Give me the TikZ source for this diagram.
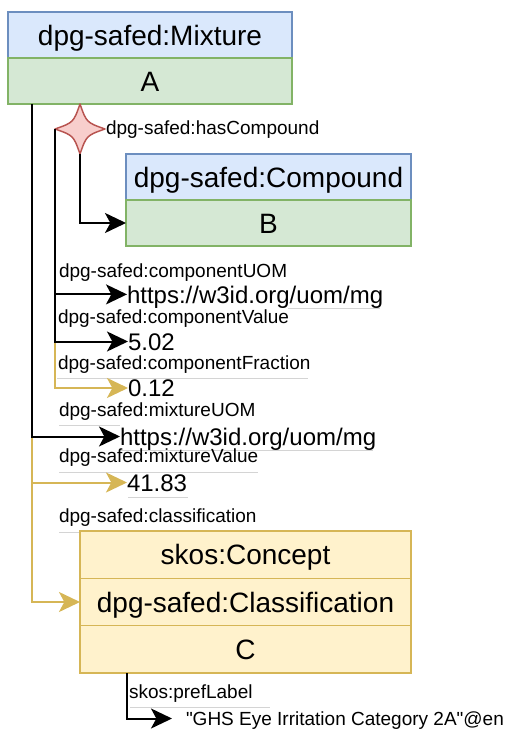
\documentclass[tikz,border=0pt]{standalone}
\usepackage{fontspec}
\setmainfont{Liberation Sans}
\newfontfamily\plainfont{Liberation Sans}
\usetikzlibrary{arrows.meta}
\definecolor{bluef}{HTML}{DAE8FC}
\definecolor{blued}{HTML}{6C8EBF}
\definecolor{greenf}{HTML}{D5E8D4}
\definecolor{greend}{HTML}{82B366}
\definecolor{redf}{HTML}{F8CECC}
\definecolor{redd}{HTML}{B85450}
\definecolor{goldf}{HTML}{FFF2CC}
\definecolor{goldd}{HTML}{D6B656}
\definecolor{ulgray}{HTML}{D4D4D4}
\begin{document}
\begin{tikzpicture}[x=0.75pt,y=-0.75pt,
  box/.style={draw, line width=1.1pt, inner sep=0pt, outer sep=0pt, text height=15.12pt, text depth=0pt, font=\fontsize{21}{25}\selectfont},
  bluebox/.style={box, fill=bluef, draw=blued},
  greenbox/.style={box, fill=greenf, draw=greend},
  goldbox/.style={box, fill=goldf, draw=goldd},
  lbl/.style={inner sep=0pt, outer sep=0pt, anchor=west, text height=10.26pt, text depth=0pt, font=\fontsize{14.25}{17}\selectfont},
  val/.style={inner sep=0pt, outer sep=0pt, anchor=west, text height=12.96pt, text depth=0pt, font=\fontsize{18}{22}\selectfont},
  conn/.style={line width=1.5pt, -{Stealth[length=15.75pt,width=15pt,inset=4pt]}},
  gconn/.style={conn, draw=goldd},
  starshape/.style={draw=redd, fill=redf, line width=1.1pt, line join=round},
  uline/.style={draw=ulgray, line width=0.75pt}]
\useasboundingbox (0,0) rectangle (507,730);

% boxes
\node[bluebox, minimum width=213pt, minimum height=34.5pt] (mixT) at (150,35) {dpg-safed:Mixture};
\node[greenbox, minimum width=213pt, minimum height=34.5pt] (mixA) at (150,81) {A};
\node[bluebox, minimum width=213.75pt, minimum height=34.5pt] (compT) at (268.5,177) {dpg-safed:Compound};
\node[greenbox, minimum width=213.75pt, minimum height=34.5pt] (compB) at (268.5,223) {B};
\node[goldbox, minimum width=248.25pt, minimum height=35.5pt] (clsT) at (245.5,554.7) {skos:Concept};
\node[goldbox, minimum width=248.25pt, minimum height=35.5pt] (clsM) at (245.5,602) {dpg-safed:Classification};
\node[goldbox, minimum width=248.25pt, minimum height=35.5pt] (clsC) at (245.5,649.3) {C};

% four-point star (blank node)
\coordinate (starN) at (80,104);
\coordinate (starE) at (105,129);
\coordinate (starS) at (80,154);
\coordinate (starW) at (55,129);
\draw[starshape] (starN) .. controls (86.5,122.5) .. (starE)
  .. controls (86.5,135.5) .. (starS)
  .. controls (73.5,135.5) .. (starW)
  .. controls (73.5,122.5) .. (starN) -- cycle;

\coordinate (mixOut) at (32,104);
\coordinate (clsOut) at (127,673);

% faint underlines
\draw[uline] (288,309) -- (380,309);
\draw[uline] (57,378) -- (308,378);
\draw[uline] (59,425) -- (120,425);
\draw[uline] (120,450) -- (373,450);
\draw[uline] (59,472) -- (258,472);
\draw[uline] (128,497) -- (188,497);
\draw[uline] (59,532) -- (79,532);
\draw[uline] (130,707) -- (270,707);

% texts
\node[lbl] (lHas) at (106,128) {dpg-safed:hasCompound};
\node[lbl] (lCU) at (59,271) {dpg-safed:componentUOM};
\node[val] (vCU) at (127,294.4) {https://w3id.org/uom/mg};
\node[lbl] (lCV) at (58,317) {dpg-safed:componentValue};
\node[val] (vCV) at (128,341.5) {5.02};
\node[lbl] (lCF) at (58,363) {dpg-safed:componentFraction};
\node[val] (vCF) at (128,388) {0.12};
\node[lbl] (lMU) at (59,410) {dpg-safed:mixtureUOM};
\node[val] (vMU) at (120,436.5) {https://w3id.org/uom/mg};
\node[lbl] (lMV) at (59,456) {dpg-safed:mixtureValue};
\node[val] (vMV) at (127,482.5) {41.83};
\node[lbl] (lCl) at (59,516) {dpg-safed:classification};
\node[lbl] (lPL) at (129,692) {skos:prefLabel};
\node[lbl] (vPL) at (186,718.5) {\plainfont "GHS Eye Irritation Category 2A"@en};

% gold connectors first
\draw[gconn] (starW) |- (vCF.west);
\draw[gconn] (mixOut) |- (vMV.west);
\draw[gconn] (mixOut) |- (clsM.west);

% black connectors
\draw[conn] (starS) |- (compB.west);
\draw[conn] (starW) |- (vCU.west);
\draw[conn] (starW) |- (vCV.west);
\draw[conn] (mixOut) |- (vMU.west);
\draw[conn, shorten >=10.5pt] (clsOut) |- (vPL.west);
\end{tikzpicture}
\end{document}
